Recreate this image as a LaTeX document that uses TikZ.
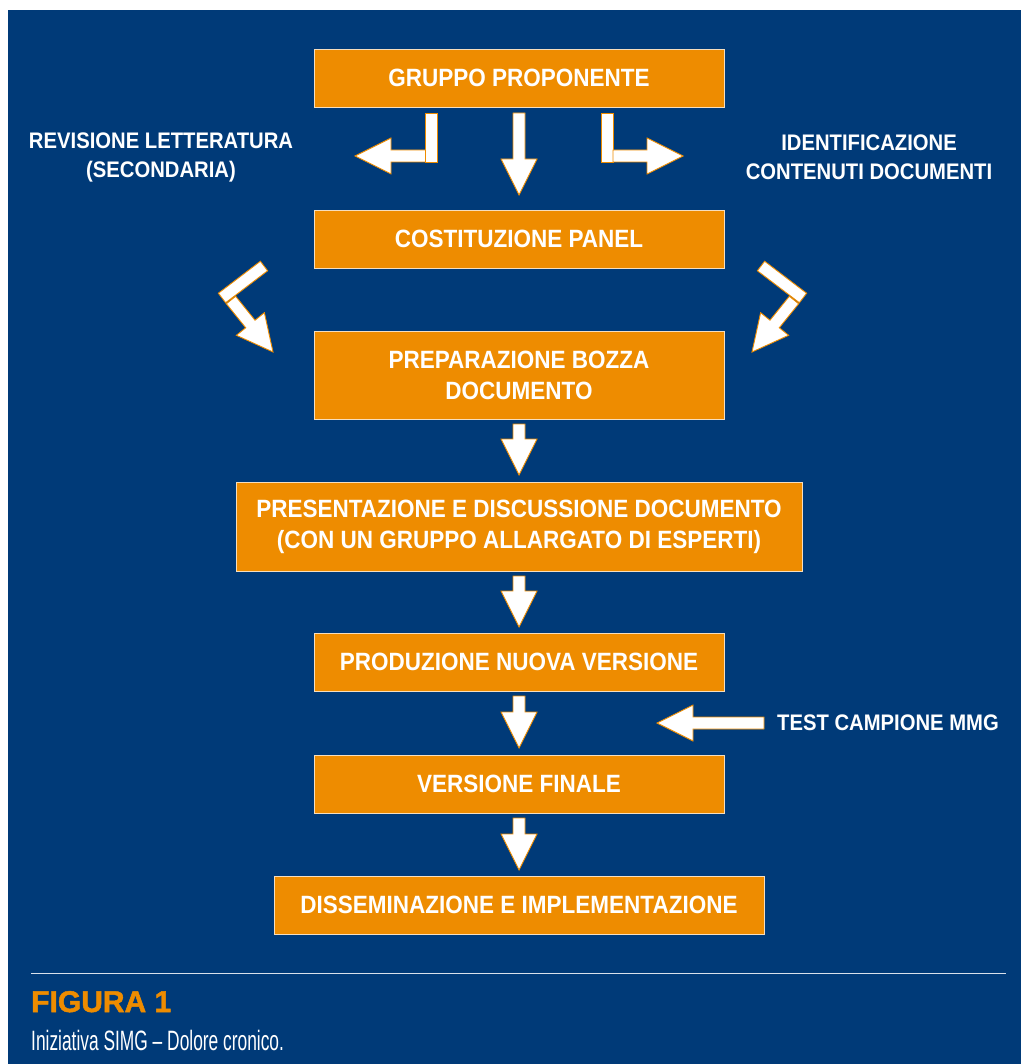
\documentclass[tikz,border=0pt]{standalone}
\usepackage{fontspec}
\setmainfont{Liberation Sans}
\newfontfamily\boxfont{Liberation Sans}[FakeStretch=0.9]
\newfontfamily\capfont{Liberation Sans}[FakeStretch=0.62]
\newfontfamily\figfont{Liberation Sans Bold}[FakeBold=1.6]
\usetikzlibrary{positioning, calc}
\definecolor{bgblue}{RGB}{0,58,120}
\definecolor{boxorange}{RGB}{238,140,0}
\definecolor{boxline}{RGB}{246,222,190}
\tikzset{
    stage/.style={rectangle, draw=boxline, fill=boxorange, text=white, text centered, align=center, minimum width=410pt, minimum height=58pt, line width=0.8pt, outer sep=0pt, font=\boxfont\bfseries\fontsize{25}{31}\selectfont},
    sidetext/.style={text=white, align=center, inner sep=0pt, font=\boxfont\bfseries\fontsize{22.5}{29}\selectfont},
    blockarrow/.style={fill=white, draw=boxorange, line width=0.9pt, line join=miter},
    sepline/.style={draw=white!85!bgblue, line width=1pt}
}
% fat white arrow from #1 to tip #2
\newcommand{\fatarrow}[2]{%
  \coordinate (fa-h) at ($(#2)!36pt!(#1)$);
  \draw[blockarrow] ($(#1)!6pt!90:(#2)$) -- ($(fa-h)!6pt!-90:(#1)$) -- ($(fa-h)!18pt!-90:(#1)$) -- (#2)
    -- ($(fa-h)!18pt!90:(#1)$) -- ($(fa-h)!6pt!90:(#1)$) -- ($(#1)!6pt!-90:(#2)$) -- cycle;}
% fat white bar from #1 to #2
\newcommand{\fatbar}[2]{%
  \draw[blockarrow] ($(#1)!6pt!90:(#2)$) -- ($(#2)!6pt!-90:(#1)$) -- ($(#2)!6pt!90:(#1)$) -- ($(#1)!6pt!-90:(#2)$) -- cycle;}
\begin{document}
\begin{tikzpicture}[x=1pt, y=-1pt, node distance=63pt]
    \useasboundingbox (0,0) rectangle (1021,1064);
    \fill[bgblue] (8,10) rectangle (1021,1064);
    % Steps
    \node (prop) [stage] at (519,78) {GRUPPO PROPONENTE};
    \node (panel) [stage, below=103pt of prop] {COSTITUZIONE PANEL};
    \node (bozza) [stage, below=of panel, minimum height=88pt] {PREPARAZIONE BOZZA\\DOCUMENTO};
    \node (discuss) [stage, below=of bozza, minimum height=89pt, minimum width=566pt] {PRESENTAZIONE E DISCUSSIONE DOCUMENTO\\(CON UN GRUPPO ALLARGATO DI ESPERTI)};
    \node (nuova) [stage, below=62pt of discuss] {PRODUZIONE NUOVA VERSIONE};
    \node (finale) [stage, below=64pt of nuova] {VERSIONE FINALE};
    \node (dissem) [stage, below=of finale, minimum width=490pt] {DISSEMINAZIONE E IMPLEMENTAZIONE};
    % Side texts
    \node (revis) [sidetext] at (161,157) {REVISIONE LETTERATURA\\(SECONDARIA)};
    \node (ident) [sidetext] at (869,157) {IDENTIFICAZIONE\\CONTENUTI DOCUMENTI};
    \node (test) [sidetext, anchor=west] at (777,723) {TEST CAMPIONE MMG};
    % Arrows
    \coordinate (p0) at ([yshift=-6pt]prop.south);
    \coordinate (p1) at ([yshift=15pt]panel.north);
    \fatarrow{p0}{p1}
    \coordinate (lb0) at ([xshift=-87.5pt,yshift=-6pt]prop.south);
    \coordinate (lb1) at ([xshift=-87.5pt,yshift=-55pt]prop.south);
    \coordinate (la0) at ([xshift=-93.5pt,yshift=-49pt]prop.south);
    \coordinate (la1) at ([xshift=-164pt,yshift=-49pt]prop.south);
    \fatbar{lb0}{lb1}
    \fatarrow{la0}{la1}
    \coordinate (rb0) at ([xshift=88pt,yshift=-6pt]prop.south);
    \coordinate (rb1) at ([xshift=88pt,yshift=-55pt]prop.south);
    \coordinate (ra0) at ([xshift=94pt,yshift=-49pt]prop.south);
    \coordinate (ra1) at ([xshift=164pt,yshift=-49pt]prop.south);
    \fatbar{rb0}{rb1}
    \fatarrow{ra0}{ra1}
    \coordinate (ldb0) at (264,266);
    \coordinate (ldb1) at (222,298);
    \coordinate (lda0) at (231,300);
    \coordinate (lda1) at (273,352);
    \fatbar{ldb0}{ldb1}
    \fatarrow{lda0}{lda1}
    \coordinate (rdb0) at (761,266);
    \coordinate (rdb1) at (803,298);
    \coordinate (rda0) at (794,300);
    \coordinate (rda1) at (752,352);
    \fatbar{rdb0}{rdb1}
    \fatarrow{rda0}{rda1}
    \coordinate (b0) at ([yshift=-5pt]bozza.south);
    \coordinate (b1) at ([yshift=7pt]discuss.north);
    \fatarrow{b0}{b1}
    \coordinate (d0) at ([yshift=-5pt]discuss.south);
    \coordinate (d1) at ([yshift=6pt]nuova.north);
    \fatarrow{d0}{d1}
    \coordinate (n0) at ([yshift=-5pt]nuova.south);
    \coordinate (n1) at ([yshift=7pt]finale.north);
    \fatarrow{n0}{n1}
    \coordinate (f0) at ([yshift=-5pt]finale.south);
    \coordinate (f1) at ([yshift=6pt]dissem.north);
    \fatarrow{f0}{f1}
    \coordinate (t0) at ([xshift=-13pt]test.west);
    \coordinate (t1) at ([xshift=-120pt]test.west);
    \fatarrow{t0}{t1}
    % Caption
    \draw[sepline] (31,973) -- (1006,973);
    \node (fig) [anchor=base west, inner sep=0pt, text=boxorange, font=\figfont\fontsize{30}{36}\selectfont] at (31,1012) {FIGURA 1};
    \node (cap) [anchor=base west, inner sep=0pt, text=white, font=\capfont\fontsize{28}{34}\selectfont] at (31,1050) {Iniziativa SIMG – Dolore cronico.};
\end{tikzpicture}
\end{document}
